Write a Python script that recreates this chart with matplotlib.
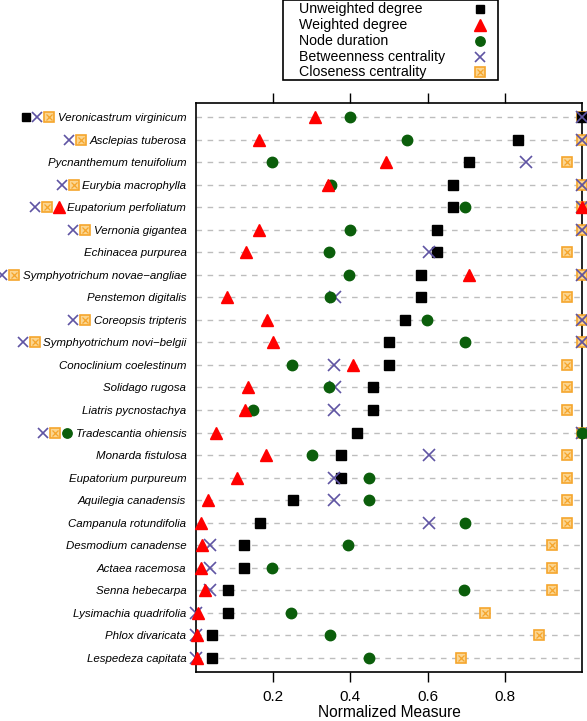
import matplotlib.pyplot as plt
from matplotlib import transforms
from matplotlib.lines import Line2D
from matplotlib.patches import Rectangle

species = [
    "Veronicastrum virginicum", "Asclepias tuberosa", "Pycnanthemum tenuifolium",
    "Eurybia macrophylla", "Eupatorium perfoliatum", "Vernonia gigantea",
    "Echinacea purpurea", "Symphyotrichum novae\u2212angliae", "Penstemon digitalis",
    "Coreopsis tripteris", "Symphyotrichum novi\u2212belgii", "Conoclinium coelestinum",
    "Solidago rugosa", "Liatris pycnostachya", "Tradescantia ohiensis",
    "Monarda fistulosa", "Eupatorium purpureum", "Aquilegia canadensis",
    "Campanula rotundifolia", "Desmodium canadense", "Actaea racemosa",
    "Senna hebecarpa", "Lysimachia quadrifolia", "Phlox divaricata",
    "Lespedeza capitata",
]

unweighted = [1.0, 0.833, 0.708, 0.667, 0.667, 0.625, 0.625, 0.584, 0.584,
              0.542, 0.501, 0.501, 0.459, 0.459, 0.417, 0.376, 0.376, 0.250,
              0.167, 0.125, 0.125, 0.084, 0.084, 0.041, 0.041]
weighted = [0.307, 0.162, 0.493, 0.343, 1.0, 0.162, 0.130, 0.708, 0.080,
            0.184, 0.199, 0.407, 0.136, 0.128, 0.051, 0.181, 0.107, 0.030,
            0.012, 0.015, 0.012, 0.024, 0.006, 0.003, 0.003]
duration = [0.399, 0.547, 0.198, 0.349, 0.697, 0.398, 0.345, 0.397, 0.347,
            0.598, 0.697, 0.248, 0.345, 0.148, 1.0, 0.300, 0.448, 0.448,
            0.697, 0.395, 0.196, 0.694, 0.246, 0.347, 0.448]
betweenness = [1.0, 1.0, 0.856, 1.0, 1.0, 1.0, 0.603, 1.0, 0.360,
               1.0, 1.0, 0.358, 0.359, 0.358, 1.0, 0.603, 0.358, 0.358,
               0.603, 0.035, 0.035, 0.035, 0.0, 0.0, 0.0]
closeness = [1.0, 1.0, 0.960, 1.0, 1.0, 1.0, 0.960, 1.0, 0.960,
             1.0, 1.0, 0.960, 0.960, 0.960, 1.0, 0.960, 0.960, 0.960,
             0.960, 0.923, 0.923, 0.923, 0.750, 0.889, 0.687]

legend_labels = ["Unweighted degree", "Weighted degree", "Node duration",
                 "Betweenness centrality", "Closeness centrality"]

ORANGE = "#F5A52C"
ORANGE_FILL = "#FBD590"
styles = {
    "Unweighted degree": dict(marker="s", color="black", ms=7),
    "Weighted degree": dict(marker="^", color="#FF0000", ms=9),
    "Node duration": dict(marker="o", color="#0B5E0B", ms=7.5),
    "Betweenness centrality": dict(marker="x", color="#5F54A3", ms=8, mew=1.2),
}


def draw_closeness(ax, xs, ys, size=7, **kw):
    ax.plot(xs, ys, ls="none", marker="s", ms=size, mfc=ORANGE_FILL, mec=ORANGE,
            mew=1.2, **kw)
    ax.plot(xs, ys, ls="none", marker="x", ms=size * 0.7, color=ORANGE,
            mew=0.9, **kw)


fig = plt.figure(figsize=(5.87, 7.21), dpi=100)
plt.rcParams["font.family"] = ["Liberation Sans", "DejaVu Sans"]
ax = fig.add_axes([196 / 587, 1 - 672 / 721, 386 / 587, 569 / 721])

rows = list(range(len(species)))
ax.hlines(rows, 0, 1, colors="#BDBDBD", linestyles=(0, (4, 4)), lw=1, zorder=1)

draw_closeness(ax, closeness, rows, clip_on=False, zorder=3)
ax.plot(betweenness, rows, ls="none", clip_on=False, zorder=4,
        **styles["Betweenness centrality"])
ax.plot(unweighted, rows, ls="none", clip_on=False, zorder=3,
        **styles["Unweighted degree"])
ax.plot(duration, rows, ls="none", clip_on=False, zorder=5,
        **styles["Node duration"])
ax.plot(weighted, rows, ls="none", clip_on=False, zorder=6,
        **styles["Weighted degree"])

ax.set_xlim(0, 1)
ax.set_ylim(len(species) - 1 + 0.62, -0.62)
ax.set_yticks(rows)
ax.set_yticklabels(species, fontstyle="italic", fontsize=8.25)
ax.tick_params(axis="y", length=0, pad=7)
ax.set_xticks([0.2, 0.4, 0.6, 0.8])
ax.set_xticklabels(["0.2", "0.4", "0.6", "0.8"])
ax.tick_params(axis="x", direction="out", length=7, width=1, labelsize=11,
               top=True, labeltop=False, pad=6)
ax.set_xlabel("Normalized Measure", fontsize=11.2, labelpad=1)
for sp in ax.spines.values():
    sp.set_linewidth(1.2)

# markers at the maximum, repeated left of the species name
fig.canvas.draw()
renderer = fig.canvas.get_renderer()
blend = transforms.blended_transform_factory(ax.transAxes, ax.transData)
for i, lab in enumerate(ax.get_yticklabels()):
    hits = []
    if unweighted[i] >= 1:
        hits.append("u")
    if betweenness[i] >= 1:
        hits.append("b")
    if closeness[i] >= 1:
        hits.append("c")
    if weighted[i] >= 1:
        hits.append("w")
    if duration[i] >= 1:
        hits.append("d")
    if not hits:
        continue
    x0 = lab.get_window_extent(renderer).x0
    for k, h in enumerate(reversed(hits)):
        px = x0 - 8.5 - k * 11.8
        xa = ax.transAxes.inverted().transform((px, 0))[0]
        if h == "c":
            draw_closeness(ax, [xa], [i], size=6.5, transform=blend,
                           clip_on=False)
        else:
            key = {"u": "Unweighted degree", "b": "Betweenness centrality",
                   "w": "Weighted degree", "d": "Node duration"}[h]
            st = dict(styles[key])
            st["ms"] = st["ms"] * 0.9
            ax.plot([xa], [i], ls="none", transform=blend, clip_on=False, **st)

# legend box drawn by hand: labels left, markers right
W, H = 587, 721
fig.patches.append(Rectangle((283 / W, 1 - 80 / H), 215 / W, 80 / H,
                             transform=fig.transFigure, fill=True,
                             facecolor="white", edgecolor="black", lw=1.2))
leg_y = [9, 25, 41, 57, 72]
for lab, yy in zip(legend_labels, leg_y):
    yf = 1 - yy / H
    fig.text(299 / W, yf, lab, fontsize=10.2, va="center", ha="left")
    if lab == "Closeness centrality":
        fig.add_artist(Line2D([480 / W], [yf], ls="none", marker="s", ms=6.5,
                              mfc=ORANGE_FILL, mec=ORANGE, mew=1.2,
                              transform=fig.transFigure))
        fig.add_artist(Line2D([480 / W], [yf], ls="none", marker="x", ms=4.5,
                              color=ORANGE, mew=0.9, transform=fig.transFigure))
    else:
        st = dict(styles[lab])
        st["ms"] = st["ms"] * 0.9
        fig.add_artist(Line2D([480 / W], [yf], ls="none",
                              transform=fig.transFigure, **st))

fig.savefig("out.png", dpi=100)
